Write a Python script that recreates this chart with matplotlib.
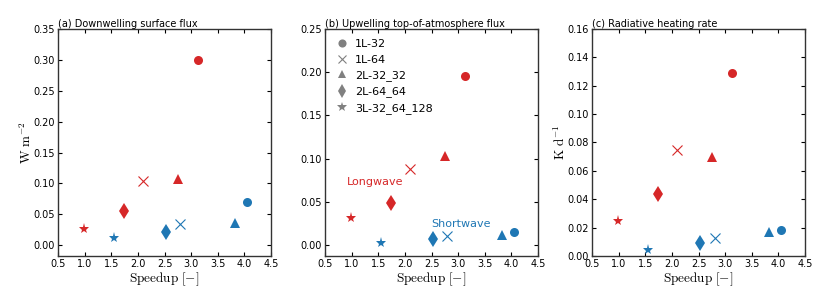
import matplotlib
matplotlib.use("Agg")
import matplotlib.pyplot as plt

plt.rcParams["mathtext.fontset"] = "cm"
plt.rcParams["font.size"] = 7

configs = ["1L-32", "1L-64", "2L-32_32", "2L-64_64", "3L-32_64_128"]
markers = ["o", "x", "^", "d", "*"]
sizes = [6.5, 6.5, 6.5, 8, 8]

# speedup for each config
speedup_lw = [3.13, 2.10, 2.75, 1.73, 0.98]
speedup_sw = [4.04, 2.80, 3.82, 2.53, 1.55]

# (a) downwelling surface flux, W m-2
down_sfc_lw = [0.300, 0.104, 0.107, 0.055, 0.027]
down_sfc_sw = [0.070, 0.034, 0.036, 0.022, 0.011]

# (b) upwelling TOA flux, W m-2
up_toa_lw = [0.196, 0.088, 0.103, 0.049, 0.031]
up_toa_sw = [0.015, 0.011, 0.012, 0.007, 0.003]

# (c) heating rate, K d-1
heating_lw = [0.129, 0.075, 0.070, 0.044, 0.025]
heating_sw = [0.0185, 0.0125, 0.017, 0.0095, 0.0045]

RED = "#d62728"
BLUE = "#1f77b4"

panels = [
    ("(a) Downwelling surface flux", down_sfc_lw, down_sfc_sw, 0.35, 0.05, r"$\mathrm{W\ m^{-2}}$"),
    ("(b) Upwelling top-of-atmosphere flux", up_toa_lw, up_toa_sw, 0.25, 0.05, None),
    ("(c) Radiative heating rate", heating_lw, heating_sw, 0.16, 0.02, r"$\mathrm{K\ d^{-1}}$"),
]

fig = plt.figure(figsize=(8.3, 3.01), dpi=100)
lefts = [0.0699, 0.3916, 0.7133]
axes = [fig.add_axes([l, 0.1495, 0.2566, 0.7542]) for l in lefts]


def draw(ax, x, y, m, ms, color, label=None):
    mew = 0.8 if m == "x" else 0
    return ax.plot(x, y, marker=m, color=color, ms=ms, mew=mew, ls="none", label=label)[0]


for i, (ax, (title, lw, sw, ymax, ystep, ylab)) in enumerate(zip(axes, panels)):
    for j, m in enumerate(markers):
        draw(ax, speedup_lw[j], lw[j], m, sizes[j], RED)
        draw(ax, speedup_sw[j], sw[j], m, sizes[j], BLUE)
    ax.set_xlim(0.5, 4.5)
    ybot = 0 if i == 2 else -0.05 * ymax
    ax.set_ylim(ybot, ymax)
    ax.set_xticks([0.5 + 0.5 * k for k in range(9)])
    nt = int(round(ymax / ystep))
    ax.set_yticks([ystep * k for k in range(nt + 1)])
    ax.yaxis.set_major_formatter(matplotlib.ticker.FormatStrFormatter("%.2f"))
    ax.tick_params(direction="in", top=True, right=True, length=3, labelsize=7, pad=2.5)
    for s in ax.spines.values():
        s.set_linewidth(1.0)
        s.set_color("#333333")
    ax.set_title(title, loc="left", fontsize=7, pad=1.5)
    ax.set_xlabel(r"$\mathrm{Speedup\ [-]}$", fontsize=9.5, labelpad=0.5)
    if ylab:
        ax.set_ylabel(ylab, fontsize=9.5, labelpad=-1)

# legend in panel (b) with grey markers
ax = axes[1]
handles = [draw(ax, [], [], m, sizes[j] * 0.9, "grey", configs[j]) for j, m in enumerate(markers)]
ax.legend(handles=handles, loc="upper left", frameon=False, numpoints=1,
          fontsize=8, handletextpad=0.6, labelspacing=0.5, borderaxespad=0.6,
          borderpad=0.3, handlelength=1.2)
ax.text(0.91, 0.0735, "Longwave", color=RED, fontsize=8, va="center")
ax.text(2.5, 0.024, "Shortwave", color=BLUE, fontsize=8, va="center")

fig.savefig("out.png", dpi=100)
